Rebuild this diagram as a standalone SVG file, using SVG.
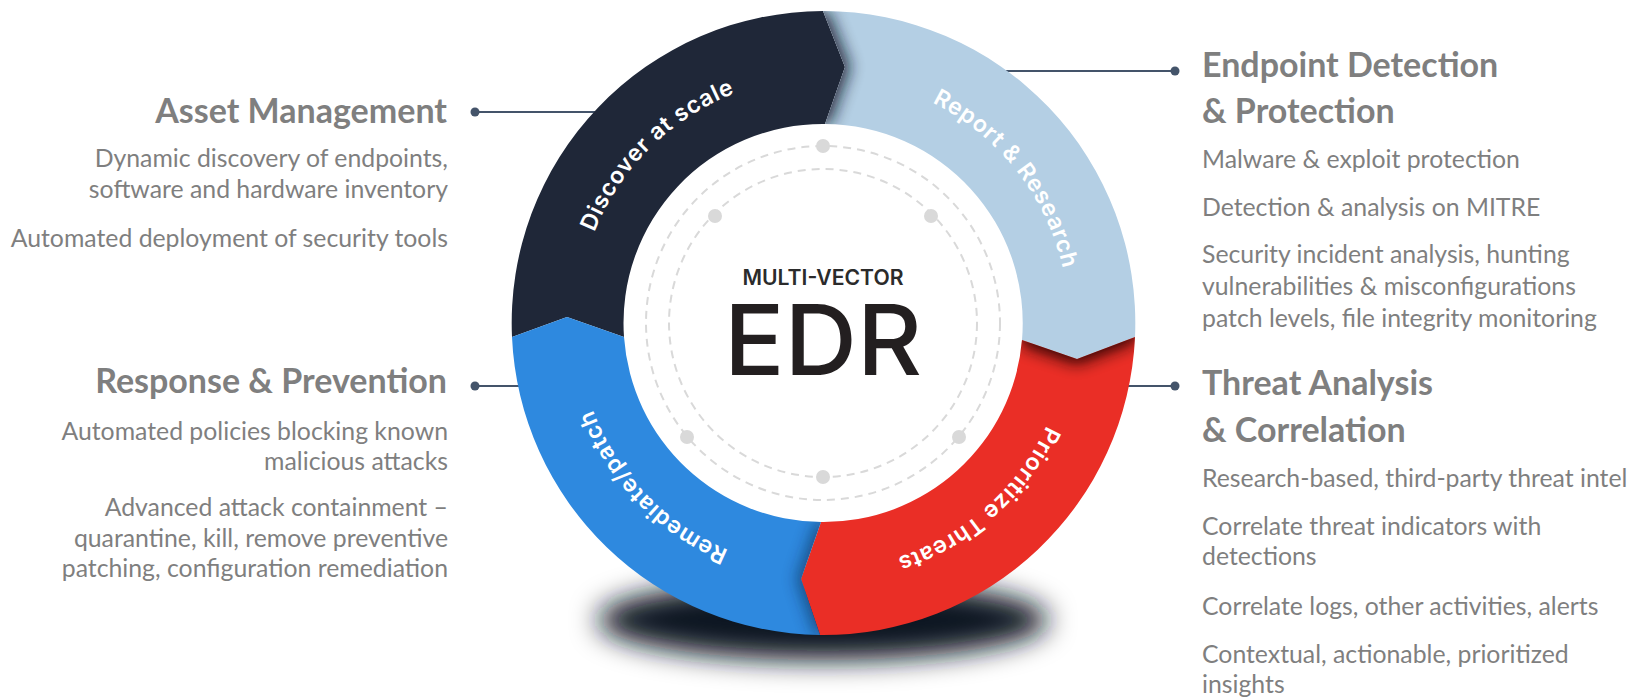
<svg xmlns="http://www.w3.org/2000/svg" width="1632" height="700" viewBox="0 0 1632 700">
<style>
.h{font-family:Lato,"Liberation Sans",sans-serif;font-weight:700;font-size:34px;fill:#7f7f7f}
.b{font-family:Lato,"Liberation Sans",sans-serif;font-size:24.8px;fill:#7f7f7f}
.r{text-anchor:end}
.arc{font-family:Inter,"DejaVu Sans",sans-serif;font-weight:600;font-size:23px;letter-spacing:0.8px;fill:#ffffff;text-anchor:middle}
.conn line{stroke:#44546a;stroke-width:2}
.conn circle{fill:#44546a}
.dash{fill:none;stroke:#d9d9d9;stroke-width:2;stroke-dasharray:8 6}
.dot{fill:#d9d9d9}
</style>
<defs>
<filter id="sb" x="-30%" y="-30%" width="160%" height="160%"><feGaussianBlur stdDeviation="8"/></filter>
<filter id="gb" x="-50%" y="-100%" width="200%" height="300%"><feGaussianBlur stdDeviation="14"/></filter>
<path id="tp" d="M823,77 A246,246 0 1 1 823,569 A246,246 0 1 1 823,77"/>
<path id="pDark" d="M512,337 A312,312 0 0 1 823,11 L845,67 L825,124 A199,199 0 0 0 624,337 L567,317 Z"/>
<path id="pLight" d="M823,11 A312,312 0 0 1 1135,337 L1077,359 L1022,340 A199,199 0 0 0 825,124 L845,67 Z"/>
<path id="pRed" d="M1135,337 A312,312 0 0 1 820,635 L801,579 L821,522 A199,199 0 0 0 1022,340 L1077,359 Z"/>
<path id="pBlue" d="M820,635 A312,312 0 0 1 512,337 L567,317 L624,337 A199,199 0 0 0 821,522 L801,579 Z"/>
<clipPath id="cLight"><use href="#pLight"/></clipPath>
<clipPath id="cRed"><use href="#pRed"/></clipPath>
<clipPath id="cBlue"><use href="#pBlue"/></clipPath>
</defs>
<rect width="1632" height="700" fill="#ffffff"/>

<g id="connectors" class="conn">
<line x1="475" y1="112" x2="610" y2="112"/><circle cx="475" cy="112" r="4.5"/>
<line x1="475" y1="386" x2="530" y2="386"/><circle cx="475" cy="386" r="4.5"/>
<line x1="995" y1="71" x2="1175" y2="71"/><circle cx="1175" cy="71" r="4.5"/>
<line x1="1115" y1="386" x2="1175" y2="386"/><circle cx="1175" cy="386" r="4.5"/>
</g>

<ellipse id="ground-shadow" cx="823" cy="620" rx="225" ry="40" fill="#0f1524" filter="url(#gb)"/>

<g id="seg-discover">
<use href="#pDark" fill="#1f2738"/>
</g>
<g id="seg-report">
<use href="#pLight" fill="#b4cfe4"/>
<g clip-path="url(#cLight)"><use href="#pDark" fill="#0f1628" opacity="0.85" filter="url(#sb)" transform="translate(5,0)"/></g>
</g>
<g id="seg-prioritize">
<use href="#pRed" fill="#ea2e26"/>
<g clip-path="url(#cRed)"><use href="#pLight" fill="#1a0202" opacity="0.95" filter="url(#sb)" transform="translate(0,5)"/></g>
</g>
<g id="seg-remediate">
<use href="#pBlue" fill="#2e89df"/>
<g clip-path="url(#cBlue)"><use href="#pRed" fill="#0a2240" opacity="0.6" filter="url(#sb)" transform="translate(-4,0)"/></g>
</g>

<g id="ring-labels">
<text class="arc"><textPath href="#tp" startOffset="87.6%">Discover at scale</textPath></text>
<text class="arc"><textPath href="#tp" startOffset="14.4%">Report &amp; Research</textPath></text>
<text class="arc"><textPath href="#tp" startOffset="38.5%">Prioritize Threats</textPath></text>
<text class="arc"><textPath href="#tp" startOffset="62.8%">Remediate/patch</textPath></text>
</g>

<g id="center">
<circle cx="823" cy="323" r="177" class="dash"/>
<circle cx="823" cy="323" r="154" class="dash"/>
<circle class="dot" cx="823" cy="146" r="7"/>
<circle class="dot" cx="687" cy="437" r="7"/>
<circle class="dot" cx="959" cy="437" r="7"/>
<circle class="dot" cx="715" cy="216" r="7"/>
<circle class="dot" cx="931" cy="216" r="7"/>
<circle class="dot" cx="823" cy="477" r="7"/>
<text x="823" y="285" text-anchor="middle" font-family="Inter, 'DejaVu Sans', sans-serif" font-weight="600" font-size="21" fill="#2b2b2b" textLength="161" lengthAdjust="spacingAndGlyphs">MULTI-VECTOR</text>
<text x="823" y="375" text-anchor="middle" font-family="Inter, 'DejaVu Sans', sans-serif" font-weight="500" font-size="98" fill="#231f20" textLength="198" lengthAdjust="spacingAndGlyphs">EDR</text>
</g>

<g id="asset-management">
<text class="h r" x="447" y="123">Asset Management</text>
<text class="b r" x="448" y="167">Dynamic discovery of endpoints,</text>
<text class="b r" x="448" y="198">software and hardware inventory</text>
<text class="b r" x="448" y="247">Automated deployment of security tools</text>
</g>

<g id="response-prevention">
<text class="h r" x="447" y="393">Response &amp; Prevention</text>
<text class="b r" x="448" y="440">Automated policies blocking known</text>
<text class="b r" x="448" y="470">malicious attacks</text>
<text class="b r" x="448" y="516">Advanced attack containment –</text>
<text class="b r" x="448" y="547">quarantine, kill, remove preventive</text>
<text class="b r" x="448" y="577">patching, configuration remediation</text>
</g>

<g id="endpoint-detection">
<text class="h" x="1202" y="77">Endpoint Detection</text>
<text class="h" x="1202" y="123">&amp; Protection</text>
<text class="b" x="1202" y="168">Malware &amp; exploit protection</text>
<text class="b" x="1202" y="216">Detection &amp; analysis on MITRE</text>
<text class="b" x="1202" y="263">Security incident analysis, hunting</text>
<text class="b" x="1202" y="295">vulnerabilities &amp; misconfigurations</text>
<text class="b" x="1202" y="327">patch levels, file integrity monitoring</text>
</g>

<g id="threat-analysis">
<text class="h" x="1202" y="395">Threat Analysis</text>
<text class="h" x="1202" y="442">&amp; Correlation</text>
<text class="b" x="1202" y="487">Research-based, third-party threat intel</text>
<text class="b" x="1202" y="535">Correlate threat indicators with</text>
<text class="b" x="1202" y="565">detections</text>
<text class="b" x="1202" y="615">Correlate logs, other activities, alerts</text>
<text class="b" x="1202" y="663">Contextual, actionable, prioritized</text>
<text class="b" x="1202" y="693">insights</text>
</g>
</svg>
